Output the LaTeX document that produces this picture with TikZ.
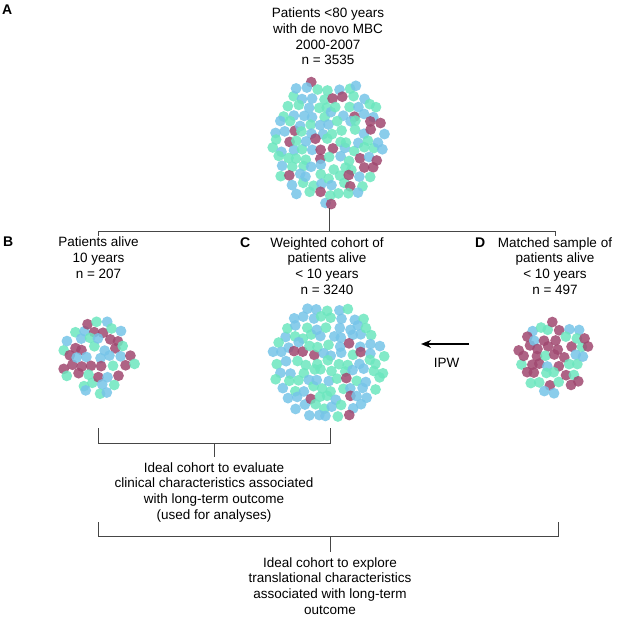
\documentclass[tikz,border=0pt]{standalone}
\usepackage{fontspec}
\setmainfont{Liberation Sans}
\usetikzlibrary{arrows.meta}
\definecolor{dotgreen}{RGB}{108,230,190}
\definecolor{dotblue}{RGB}{118,196,232}
\definecolor{dotmauve}{RGB}{160,72,112}
\definecolor{linegray}{RGB}{70,70,70}
% centre x, centre y, radius x, radius y, mauve share, seed
\newcommand\drawcluster[6]{%
  \pgfmathsetseed{#6}%
  \foreach \i in {-7,...,7}{%
    \foreach \j in {-8,...,8}{%
      \pgfmathsetmacro\px{10*\i + 5*mod(abs(\j),2) + 2.8*rand}%
      \pgfmathsetmacro\py{8.8*\j + 2.8*rand}%
      \pgfmathsetmacro\inside{((\px/#3)^2+(\py/#4)^2 < 1) ? 1 : 0}%
      \pgfmathsetmacro\cr{rnd}%
      \ifdim\inside pt>0.5pt
        \pgfmathsetmacro\cidx{\cr < #5 ? 0 : (\cr < #5 + (1-#5)/2 ? 1 : 2)}%
        \ifdim\cidx pt<0.5pt \def\dotcol{dotmauve}\else\ifdim\cidx pt<1.5pt \def\dotcol{dotblue}\else\def\dotcol{dotgreen}\fi\fi
        \fill[\dotcol, opacity=0.85] (#1+\px, #2+\py) circle[radius=5.4pt];
      \fi
    }%
  }%
}
\begin{document}
\begin{tikzpicture}[x=1pt,y=-1pt,
  txt/.style={font=\fontsize{13.5}{15.7}\selectfont, align=center, inner sep=0pt, anchor=north},
  lbl/.style={font=\fontsize{14}{16}\selectfont\bfseries, inner sep=0pt, anchor=base west},
  conn/.style={draw=linegray, line width=0.9pt}]
\useasboundingbox (0,0) rectangle (644,620);

% labels
\node[lbl] (la) at (2,15) {A};
\node[lbl] (lb) at (3,246.5) {B};
\node[lbl] (lc) at (240,247) {C};
\node[lbl] (ld) at (475,247) {D};

% texts
\node[txt] (ttop) at (328,7.8) {Patients <80 years\\with de novo MBC\\2000-2007\\n = 3535};
\node[txt] (tb) at (98.5,236.8) {Patients alive\\10 years\\n = 207};
\node[txt] (tc) at (327,237.3) {Weighted cohort of\\patients alive\\< 10 years\\n = 3240};
\node[txt] (td) at (555,237.3) {Matched sample of\\patients alive\\< 10 years\\n = 497};
\node[txt] (tcl) at (214,462.3) {Ideal cohort to evaluate\\clinical characteristics associated\\with long-term outcome\\(used for analyses)};
\node[txt] (ttr) at (330,557.3) {Ideal cohort to explore\\translational characteristics\\associated with long-term\\outcome};
\node[font=\fontsize{13.5}{15.7}\selectfont, inner sep=0pt, anchor=base] (ipw) at (446.5,367) {IPW};

% clusters
\drawcluster{328}{141}{57}{64}{0.16}{5}
\drawcluster{98.5}{357.5}{37}{37}{0.45}{23}
\drawcluster{328}{362.5}{57}{59}{0.08}{7}
\drawcluster{555}{356.5}{37}{37}{0.5}{41}

% connector coordinates
\coordinate (topbot) at (329,208);
\coordinate (tj) at (329,231);
\coordinate (tl) at (98.5,231);
\coordinate (tr) at (555,231);
\coordinate (tlb) at (98.5,236);
\coordinate (trb) at (555,236);
\draw[conn] (topbot) -- (tj);
\draw[conn] (tlb) -- (tl) -- (tr) -- (trb);

\coordinate (b1l) at (98.5,428);
\coordinate (b1lb) at (98.5,443);
\coordinate (b1r) at (330,428);
\coordinate (b1rb) at (330,443);
\coordinate (b1m) at (214,443);
\coordinate (b1mb) at (214,457);
\draw[conn] (b1l) -- (b1lb) -- (b1rb) -- (b1r);
\draw[conn] (b1m) -- (b1mb);

\coordinate (b2l) at (98.5,522);
\coordinate (b2lb) at (98.5,536);
\coordinate (b2r) at (558,522);
\coordinate (b2rb) at (558,536);
\coordinate (b2m) at (330,536);
\coordinate (b2mb) at (330,552);
\draw[conn] (b2l) -- (b2lb) -- (b2rb) -- (b2r);
\draw[conn] (b2m) -- (b2mb);

% IPW arrow
\coordinate (arrs) at (469,344);
\coordinate (arre) at (421,344);
\draw[line width=1.4pt, -{Stealth[length=10pt,width=8pt]}] (arrs) -- (arre);
\end{tikzpicture}
\end{document}
